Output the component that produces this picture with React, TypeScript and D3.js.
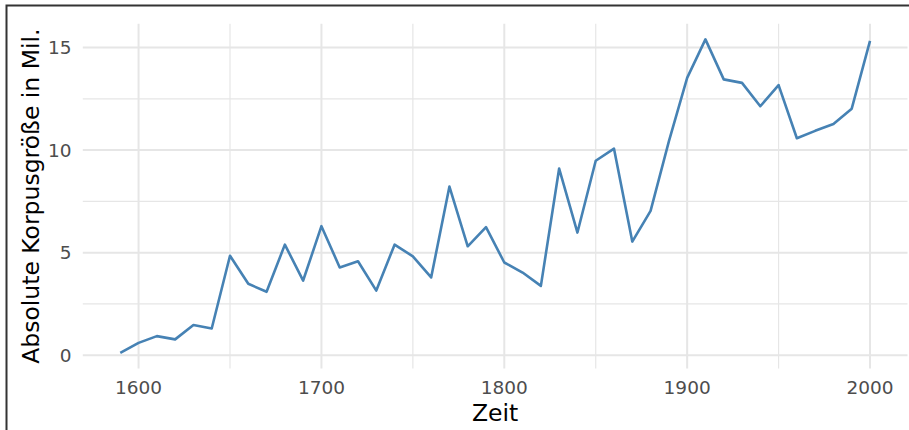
import React from "react";
import * as d3 from "d3";

const years = [
  1590, 1600, 1610, 1620, 1630, 1640, 1650, 1660, 1670, 1680, 1690,
  1700, 1710, 1720, 1730, 1740, 1750, 1760, 1770, 1780, 1790,
  1800, 1810, 1820, 1830, 1840, 1850, 1860, 1870, 1880, 1890,
  1900, 1910, 1920, 1930, 1940, 1950, 1960, 1970, 1980, 1990, 2000,
];
const sizes = [
  0.11, 0.6, 0.93, 0.77, 1.47, 1.3, 4.85, 3.48, 3.09, 5.39, 3.64,
  6.29, 4.28, 4.58, 3.15, 5.39, 4.82, 3.79, 8.22, 5.31, 6.24,
  4.52, 4.03, 3.38, 9.1, 5.98, 9.48, 10.07, 5.54, 7.04, 10.43,
  13.52, 15.4, 13.45, 13.28, 12.14, 13.17, 10.58, 10.94, 11.27, 12.02, 15.33,
];
const xTicks = [1600, 1700, 1800, 1900, 2000];
const xMinor = [1650, 1750, 1850, 1950];
const yTicks = [0, 5, 10, 15];
const yMinor = [2.5, 7.5, 12.5];
const xTitle = "Zeit";
const yTitle = "Absolute Korpusgröße in Mil.";

const W = 909;
const H = 430;
const panel = { left: 82.8, right: 907.5, top: 23.7, bottom: 368.6 };

function expand(ext: [number, number], f = 0.05): [number, number] {
  const r = ext[1] - ext[0];
  return [ext[0] - r * f, ext[1] + r * f];
}

export default function App() {
  const x = d3
    .scaleLinear()
    .domain(expand(d3.extent(years) as [number, number]))
    .range([panel.left, panel.right]);
  const y = d3
    .scaleLinear()
    .domain(expand(d3.extent(sizes) as [number, number]))
    .range([panel.bottom, panel.top]);

  const data = years.map((yr, i) => ({ yr, v: sizes[i] }));
  const line = d3
    .line<{ yr: number; v: number }>()
    .x((d) => x(d.yr))
    .y((d) => y(d.v));

  const font = "'DejaVu Sans', sans-serif";
  const grid = "#e6e6e6";

  return (
    <svg
      width={W}
      height={H}
      style={{ position: "absolute", left: 0, top: 0, background: "#fff" }}
      fontFamily={font}
    >
      <rect x={0} y={0} width={W} height={H} fill="#fff" />
      {yMinor.map((t) => (
        <line key={"ym" + t} x1={panel.left} x2={panel.right} y1={y(t)} y2={y(t)} stroke={grid} strokeWidth={1.2} />
      ))}
      {xMinor.map((t) => (
        <line key={"xm" + t} y1={panel.top} y2={panel.bottom} x1={x(t)} x2={x(t)} stroke={grid} strokeWidth={1.2} />
      ))}
      {yTicks.map((t) => (
        <line key={"y" + t} x1={panel.left} x2={panel.right} y1={y(t)} y2={y(t)} stroke={grid} strokeWidth={2} />
      ))}
      {xTicks.map((t) => (
        <line key={"x" + t} y1={panel.top} y2={panel.bottom} x1={x(t)} x2={x(t)} stroke={grid} strokeWidth={2} />
      ))}
      <path d={line(data) || ""} fill="none" stroke="#4682b4" strokeWidth={2.6} strokeLinejoin="round" />
      {yTicks.map((t) => (
        <text key={"yl" + t} x={71.5} y={y(t)} dy="0.36em" textAnchor="end" fontSize={18.5} fill="#4d4d4d">
          {t}
        </text>
      ))}
      {xTicks.map((t) => (
        <text key={"xl" + t} x={x(t)} y={394} textAnchor="middle" fontSize={18.5} fill="#4d4d4d">
          {t}
        </text>
      ))}
      <text x={(panel.left + panel.right) / 2} y={420.5} textAnchor="middle" fontSize={23.5} fill="#000">
        {xTitle}
      </text>
      <text
        transform={`translate(38.5, ${(panel.top + panel.bottom) / 2}) rotate(-90)`}
        textAnchor="middle"
        fontSize={23.5}
        fill="#000"
      >
        {yTitle}
      </text>
      <path d={`M6.5,${H} V5.5 H${W}`} fill="none" stroke="#333" strokeWidth={2} />
    </svg>
  );
}
